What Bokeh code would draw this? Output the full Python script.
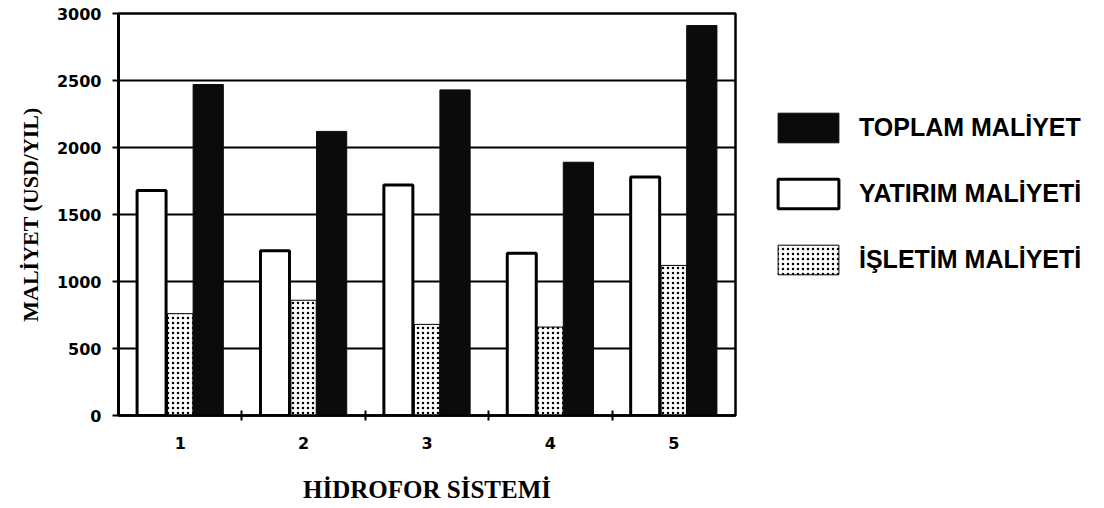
from bokeh.plotting import figure
from bokeh.models import Range1d, FixedTicker, Legend, LegendItem, ColumnDataSource
from bokeh.transform import dodge
from bokeh.embed import file_html
from bokeh.resources import INLINE

# ---- data ----
systems = [1, 2, 3, 4, 5]
system_labels = ["1", "2", "3", "4", "5"]
yatirim = [1680, 1230, 1720, 1210, 1780]   # YATIRIM MALİYETİ (white)
isletim = [760, 860, 680, 660, 1120]       # İŞLETİM MALİYETİ (dotted)
toplam = [2470, 2120, 2430, 1890, 2910]    # TOPLAM MALİYET (black)
y_ticks = [0, 500, 1000, 1500, 2000, 2500, 3000]
boundaries = [1.5, 2.5, 3.5, 4.5]
series_names = ["TOPLAM MALİYET", "YATIRIM MALİYETİ", "İŞLETİM MALİYETİ"]
x_title = "HİDROFOR SİSTEMİ"
y_title = "MALİYET (USD/YIL)"

src = ColumnDataSource(dict(x=systems, yatirim=yatirim, isletim=isletim, toplam=toplam))

p = figure(frame_width=617, frame_height=402,
           x_range=Range1d(0.5, 5.5), y_range=Range1d(0, 3000),
           output_backend="svg", toolbar_location=None,
           min_border_left=118, min_border_right=0,
           min_border_top=13, min_border_bottom=89)

p.background_fill_color = "white"
p.border_fill_color = "white"
p.outline_line_color = "black"
p.outline_line_width = 2.5

r_top = p.vbar(x=dodge("x", 0.227, range=p.x_range), top="toplam", width=0.245, source=src,
               fill_color="#0b0b0b", line_color="#0b0b0b", line_width=1)
r_isl = p.vbar(x="x", top="isletim", width=0.205, source=src,
               fill_color="white", hatch_pattern="dot", hatch_color="black",
               hatch_scale=5, hatch_weight=2.4, hatch_alpha=1.0,
               line_color="black", line_width=1)
r_yat = p.vbar(x=dodge("x", -0.232, range=p.x_range), top="yatirim", width=0.235, source=src,
               fill_color="white", line_color="black", line_width=3)

# grid
p.xgrid.visible = False
p.ygrid.ticker = FixedTicker(ticks=y_ticks)
p.ygrid.grid_line_color = "black"
p.ygrid.grid_line_width = 2

# y axis
yax = p.yaxis[0]
yax.ticker = FixedTicker(ticks=y_ticks)
yax.axis_line_width = 3
yax.axis_line_color = "black"
yax.major_tick_out = 6
yax.major_tick_in = 0
yax.major_tick_line_width = 2
yax.minor_tick_out = 0
yax.minor_tick_in = 0
yax.major_label_standoff = 11
yax.major_label_text_font = "DejaVu Sans"
yax.major_label_text_font_style = "bold"
yax.major_label_text_font_size = "16px"
yax.major_label_text_color = "black"
yax.axis_label = y_title
yax.axis_label_text_font = "Liberation Serif"
yax.axis_label_text_font_style = "bold"
yax.axis_label_text_font_size = "22px"
yax.axis_label_text_color = "black"
yax.axis_label_standoff = 11

# x axis
xax = p.xaxis[0]
xax.ticker = FixedTicker(ticks=systems, minor_ticks=boundaries)
xax.major_label_overrides = {s: l for s, l in zip(systems, system_labels)}
xax.axis_line_width = 2.5
xax.axis_line_color = "black"
xax.major_tick_out = 0
xax.major_tick_in = 0
xax.minor_tick_out = 5
xax.minor_tick_in = 5
xax.minor_tick_line_width = 2
xax.minor_tick_line_color = "black"
xax.major_label_standoff = 16
xax.major_label_text_font = "DejaVu Sans"
xax.major_label_text_font_style = "bold"
xax.major_label_text_font_size = "16px"
xax.major_label_text_color = "black"
xax.axis_label = x_title
xax.axis_label_text_font = "Liberation Serif"
xax.axis_label_text_font_style = "bold"
xax.axis_label_text_font_size = "25px"
xax.axis_label_text_color = "black"
xax.axis_label_standoff = 24

legend = Legend(items=[LegendItem(label=series_names[0], renderers=[r_top]),
                       LegendItem(label=series_names[1], renderers=[r_yat]),
                       LegendItem(label=series_names[2], renderers=[r_isl])],
                location=(35, 137), orientation="vertical",
                glyph_width=76, glyph_height=37, label_height=37, spacing=29,
                padding=0, margin=0, label_standoff=13,
                border_line_alpha=0, background_fill_alpha=0,
                label_text_font="Liberation Sans", label_text_font_style="bold",
                label_text_font_size="25px", label_text_color="black")
p.add_layout(legend, "right")

open("out.html", "w").write(file_html(p, INLINE))
